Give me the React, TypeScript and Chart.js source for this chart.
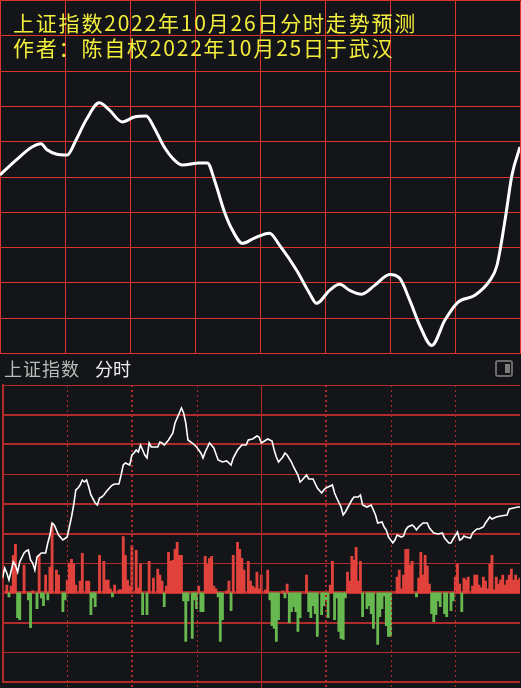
import { useEffect, useRef } from "react";
import { Chart, registerables } from "chart.js";

Chart.register(...registerables);

// ---------- text ----------
const titleLines = ["上证指数2022年10月26日分时走势预测", "作者：陈自权2022年10月25日于武汉"];
const panelName = "上证指数";
const panelMode = "分时";

// ---------- top panel: forecast curve (minute of session, index value) ----------
const forecastMinutes = [
  0, 7.4, 14.8, 19.0, 21.7, 25.9, 31.0, 35.1, 39.8, 45.8,
  50.4, 56.4, 62.0, 67.5, 71.2, 75.8, 80.5, 84.2, 92.0, 95.7,
  99.0, 103.6, 107.3, 111.9, 117.4, 124.4, 129.0, 136.9, 142.9, 146.1,
  152.1, 156.8, 161.4, 166.9, 172.9, 179.9, 184.5, 189.1, 193.7, 199.3,
  205.3, 211.3, 219.2, 226.1, 229.4, 233.1, 236.3, 240,
];
const forecastValues = [
  3000.6, 3004.8, 3008.5, 3009.4, 3007.7, 3006.5, 3006.2, 3010.5, 3016.2, 3021.0,
  3019.0, 3015.6, 3017.0, 3017.3, 3013.9, 3008.5, 3004.8, 3003.4, 3004.0, 3004.0,
  2999.1, 2990.1, 2984.9, 2981.2, 2982.7, 2984.1, 2980.7, 2973.6, 2967.0, 2964.2,
  2967.9, 2969.6, 2967.9, 2966.8, 2969.3, 2972.4, 2971.3, 2965.1, 2958.0, 2952.3,
  2959.4, 2964.5, 2966.5, 2970.7, 2975.0, 2987.8, 3000.6, 3008.5,
];

// ---------- bottom panel: actual intraday index ----------
const priceMinutes = [
  0, 1, 2, 3, 5, 6, 7, 8, 10, 11,
  12, 13, 14, 15, 16, 18, 20, 21, 22, 23,
  24, 26, 28, 30, 31, 32, 33, 34, 35, 36,
  37, 38, 39, 40, 41, 43, 44, 45, 46, 47,
  48, 50, 51, 52, 54, 55, 56, 57, 59, 60,
  61, 62, 63, 64, 65, 66, 67, 68, 69, 72,
  73, 74, 75, 77, 79, 80, 82, 83, 84, 85,
  86, 88, 90, 92, 93, 94, 96, 98, 100, 102,
  104, 106, 107, 109, 111, 113, 114, 116, 118, 119,
  120, 123, 125, 126, 127, 128, 130, 131, 132, 134,
  135, 137, 138, 139, 141, 142, 144, 146, 148, 149,
  150, 153, 154, 155, 157, 158, 159, 160, 162, 163,
  165, 166, 167, 169, 171, 173, 174, 176, 177, 178,
  179, 181, 182, 183, 185, 186, 187, 188, 190, 191,
  192, 193, 195, 197, 198, 200, 202, 204, 205, 207,
  208, 209, 211, 212, 213, 214, 215, 217, 218, 220,
  221, 223, 224, 226, 227, 229, 231, 234, 235, 237,
  239, 240,
];
const priceValues = [
  2960.8, 2962.8, 2961.8, 2960.4, 2964.0, 2963.4, 2962.0, 2964.0, 2965.8, 2966.2,
  2966.4, 2964.4, 2963.8, 2962.4, 2965.0, 2965.8, 2965.8, 2967.8, 2969.4, 2971.8,
  2971.4, 2969.4, 2968.4, 2969.0, 2971.0, 2973.0, 2975.4, 2978.4, 2978.8, 2979.4,
  2980.4, 2980.0, 2980.4, 2979.0, 2977.4, 2975.8, 2975.4, 2976.8, 2977.0, 2977.4,
  2978.0, 2979.0, 2979.4, 2979.6, 2979.6, 2981.4, 2983.4, 2983.8, 2983.4, 2985.4,
  2985.8, 2986.4, 2986.0, 2987.4, 2986.4, 2985.4, 2984.8, 2987.8, 2987.0, 2987.0,
  2988.0, 2987.8, 2987.4, 2988.4, 2989.8, 2991.8, 2993.8, 2994.8, 2993.8, 2991.8,
  2988.4, 2987.8, 2987.0, 2985.8, 2984.8, 2986.0, 2987.8, 2986.8, 2984.4, 2984.0,
  2984.2, 2983.4, 2984.8, 2986.4, 2987.4, 2987.4, 2988.4, 2988.6, 2989.2, 2989.0,
  2987.8, 2988.6, 2988.2, 2986.4, 2985.0, 2984.0, 2985.0, 2985.8, 2985.4, 2984.0,
  2983.0, 2981.4, 2980.0, 2980.4, 2981.4, 2980.6, 2980.6, 2978.8, 2977.8, 2978.4,
  2978.8, 2979.4, 2977.8, 2976.8, 2975.0, 2973.4, 2974.0, 2974.8, 2976.4, 2977.0,
  2977.0, 2977.4, 2975.4, 2975.0, 2975.4, 2973.4, 2971.8, 2972.0, 2971.0, 2970.4,
  2969.0, 2967.8, 2968.4, 2969.4, 2969.0, 2969.2, 2970.4, 2971.0, 2971.4, 2971.0,
  2970.4, 2971.0, 2971.8, 2971.8, 2970.8, 2969.8, 2969.6, 2969.8, 2968.8, 2967.8,
  2967.8, 2968.6, 2970.0, 2968.4, 2968.6, 2969.2, 2969.0, 2968.8, 2969.8, 2970.6,
  2970.6, 2971.0, 2971.8, 2973.0, 2972.6, 2973.0, 2973.2, 2973.4, 2974.6, 2974.8,
  2975.0, 2975.0,
];

// ---------- bottom panel: red/green strength bars ----------
const strengthMinutes = [
  2, 3, 4, 5, 6, 7, 8, 10, 12, 13,
  14, 16, 17, 18, 19, 20, 21, 22, 23, 25,
  26, 28, 29, 30, 31, 32, 33, 34, 36, 37,
  39, 40, 41, 42, 43, 45, 47, 48, 49, 50,
  51, 52, 54, 55, 56, 57, 58, 59, 60, 62,
  63, 64, 65, 67, 68, 70, 72, 73, 74, 75,
  76, 77, 78, 79, 80, 81, 82, 83, 84, 85,
  86, 88, 89, 90, 91, 92, 93, 94, 95, 96,
  97, 98, 99, 100, 101, 102, 104, 105, 106, 107,
  109, 110, 111, 112, 114, 115, 116, 117, 118, 119,
  120, 122, 123, 124, 125, 126, 127, 128, 130, 131,
  132, 133, 134, 135, 136, 137, 138, 141, 142, 143,
  144, 145, 146, 148, 149, 150, 151, 152, 153, 154,
  155, 156, 157, 158, 159, 160, 161, 162, 163, 164,
  165, 166, 167, 169, 170, 171, 172, 174, 175, 176,
  177, 178, 179, 180, 183, 184, 185, 186, 187, 188,
  189, 190, 192, 193, 194, 195, 196, 197, 198, 199,
  200, 201, 202, 203, 205, 206, 208, 209, 210, 211,
  212, 213, 214, 215, 216, 218, 219, 220, 221, 222,
  223, 224, 225, 226, 227, 228, 229, 230, 231, 232,
  233, 234, 235, 236, 237, 238, 239, 240,
];
const strengthValues = [
  80, -40, 70, 380, 490, -250, -270, 280, -70, -350,
  20, -160, 380, -50, -130, 180, -70, 260, 700, 230,
  180, -190, -70, 130, 300, 340, 290, 80, 120, 400,
  120, 120, -220, -50, -140, 380, 320, 130, 130, 40,
  -40, 80, 30, 30, 570, 380, 130, 70, 480, 430,
  50, 290, -220, -220, 320, 150, 240, 180, 120, -140,
  70, 410, 320, 330, 440, 510, 380, 380, -80, -490,
  -80, -460, -70, -160, 70, -190, -190, 370, 290, 350,
  370, 70, 40, -40, -490, -270, 20, 120, -180, 380,
  510, 440, 350, 230, 320, 120, 70, 50, 210, 40,
  180, 30, 230, -70, -330, -360, -490, -270, 20, -50,
  90, -300, -190, -140, -190, -390, -250, 180, -190, -250,
  -130, -210, -440, -220, -130, -80, -250, 80, 320, -270,
  -50, -390, -460, -470, -50, 210, 120, 370, 330, 460,
  120, 320, -240, -160, -130, -210, -360, -520, -240, -160,
  -30, -330, -440, -440, 160, 230, 40, 180, 440, 440,
  280, 320, -40, 150, 410, 180, 380, 270, 90, -210,
  -290, -220, -80, -140, -210, -240, -180, -80, 160, 290,
  90, -190, 150, 130, 160, 70, 180, 180, 80, 50,
  160, 120, 40, 290, 380, 30, 160, 90, 130, 180,
  80, 130, 180, 240, 130, 180, 130, 150,
];

// vertical session marks (minutes from the open)
const sessionMarks = [30, 60, 90, 120, 150, 180, 210];

const BG = "#141518";
const TOP_GRID = "#e2332d";
const BOTTOM_GRID = "#b02b2b";
const UP = "#e2423c";
const DOWN = "#67b94f";

export default function App() {
  const topRef = useRef<HTMLCanvasElement | null>(null);
  const bottomRef = useRef<HTMLCanvasElement | null>(null);

  useEffect(() => {
    document.body.style.margin = "0";
    document.body.style.background = BG;

    const topChart = new Chart(topRef.current as HTMLCanvasElement, {
      type: "line",
      data: {
        datasets: [
          {
            data: forecastMinutes.map((m, i) => ({ x: m, y: forecastValues[i] })),
            borderColor: "#ffffff",
            borderWidth: 3,
            pointRadius: 0,
            cubicInterpolationMode: "monotone",
            fill: false,
          },
        ],
      },
      options: {
        responsive: false,
        animation: false,
        events: [],
        layout: { padding: { left: 0, right: 1, top: 0.5, bottom: 2.5 } },
        plugins: { legend: { display: false }, tooltip: { enabled: false } },
        scales: {
          x: {
            type: "linear",
            min: 0,
            max: 240,
            ticks: { display: false, stepSize: 30 },
            grid: { color: TOP_GRID, lineWidth: 1, drawTicks: false },
            border: { display: false },
          },
          y: {
            min: 2950,
            max: 3050,
            ticks: { display: false, stepSize: 10 },
            grid: { color: TOP_GRID, lineWidth: 1, drawTicks: false },
            border: { display: false },
          },
        },
      },
    } as any);

    const gridWeights = [2, 1, 2, 3, 1, 2, 2, 1, 2, 2, 1];

    const sessionLines = {
      id: "sessionLines",
      beforeDatasetDraw(chart: any, args: any) {
        if (args.meta.type !== "line") return;
        const { ctx, chartArea, scales } = chart;
        const x = scales.x;
        sessionMarks.forEach((m) => {
          const px = x.getPixelForValue(m);
          const heavy = m === 60 || m === 150;
          const solid = m === 120;
          ctx.save();
          ctx.strokeStyle = BOTTOM_GRID;
          ctx.lineWidth = heavy ? 2 : 1;
          ctx.setLineDash(solid ? [] : [2, 3]);
          const ax = heavy ? Math.round(px) : Math.round(px) + 0.5;
          ctx.beginPath();
          ctx.moveTo(ax, chartArea.top);
          ctx.lineTo(ax, chart.height);
          ctx.stroke();
          ctx.restore();
        });
      },
    };

    const bottomChart = new Chart(bottomRef.current as HTMLCanvasElement, {
      type: "line",
      data: {
        datasets: [
          {
            type: "line",
            data: priceMinutes.map((m, i) => ({ x: m, y: priceValues[i] })),
            yAxisID: "yp",
            borderColor: "#ffffff",
            borderWidth: 1.6,
            pointRadius: 0,
            tension: 0,
            fill: false,
            order: 1,
          },
          {
            type: "bar",
            data: strengthMinutes.map((m, i) => ({ x: m, y: strengthValues[i] })),
            yAxisID: "yv",
            backgroundColor: (c: any) => ((c.raw && c.raw.y) >= 0 ? UP : DOWN),
            borderWidth: 0,
            barPercentage: 1,
            categoryPercentage: 1,
            order: 2,
          },
        ],
      },
      options: {
        responsive: false,
        animation: false,
        events: [],
        layout: { padding: { left: 2.5, right: 1, top: 5, bottom: 6 } },
        plugins: { legend: { display: false }, tooltip: { enabled: false } },
        scales: {
          x: { type: "linear", min: 0, max: 240, display: false, offset: false },
          y: {
            min: 0,
            max: 10,
            ticks: { display: false, stepSize: 1 },
            grid: {
              color: BOTTOM_GRID,
              drawTicks: false,
              lineWidth: (c: any) => gridWeights[Math.round(c.tick ? c.tick.value : 0)] || 1,
            },
            border: { display: true, width: 2, color: BOTTOM_GRID },
          },
          yp: { display: false, min: 2940, max: 2999.4 },
          yv: { display: false, min: -900, max: 2100 },
        },
      },
      plugins: [sessionLines],
    } as any);

    return () => {
      topChart.destroy();
      bottomChart.destroy();
    };
  }, []);

  return (
    <div
      style={{
        position: "absolute",
        left: 0,
        top: 0,
        width: 521,
        height: 688,
        background: BG,
        overflow: "hidden",
      }}
    >
      <canvas
        ref={topRef}
        width={521}
        height={356}
        style={{ position: "absolute", left: 0, top: 0, width: 521, height: 356, display: "block" }}
      />
      <div
        style={{
          position: "absolute",
          left: 13,
          top: 10,
          color: "#f3ee3c",
          fontFamily: '"Noto Sans CJK SC", sans-serif',
          fontSize: 21,
          lineHeight: "25px",
          letterSpacing: 1.8,
          whiteSpace: "pre",
        }}
      >
        {titleLines.map((t) => (
          <div key={t}>{t}</div>
        ))}
      </div>
      <div
        style={{
          position: "absolute",
          left: 4,
          top: 358,
          fontFamily: '"Noto Sans CJK SC", sans-serif',
          fontSize: 18,
          lineHeight: "20px",
          whiteSpace: "pre",
        }}
      >
        <span style={{ color: "#b8bcb8", letterSpacing: 1 }}>{panelName}</span>
        <span style={{ color: "#eeeeee", marginLeft: 15 }}>{panelMode}</span>
      </div>
      <div
        style={{
          position: "absolute",
          left: 495,
          top: 360,
          width: 18,
          height: 17,
          border: "2px solid #6b6b6b",
          borderRadius: 3,
          boxSizing: "border-box",
        }}
      >
        <div
          style={{
            position: "absolute",
            left: 8,
            top: 2,
            width: 5,
            height: 9,
            background: "#7c7c7c",
          }}
        />
      </div>
      <canvas
        ref={bottomRef}
        width={521}
        height={308}
        style={{ position: "absolute", left: 0, top: 380, width: 521, height: 308, display: "block" }}
      />
    </div>
  );
}
